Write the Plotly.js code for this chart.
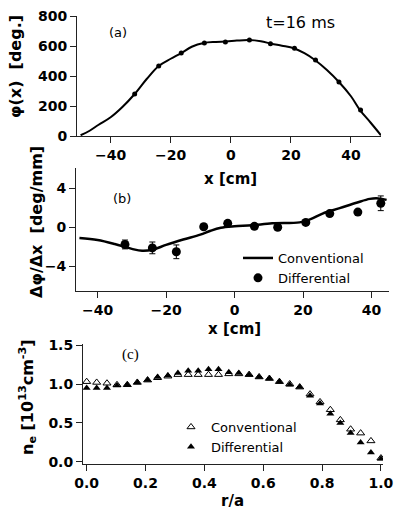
<!DOCTYPE html>
<html>
<head>
<meta charset="utf-8">
<script src="https://cdn.plot.ly/plotly-3.0.1.min.js"></script>
<style>html,body{margin:0;padding:0;background:#fff;}#chart{width:394px;height:511px;}</style>
</head>
<body>
<div id="chart"></div>
<script>
// ---------- Panel (a): phase profile ----------
const phiCurveX = [-50, -47, -44, -40, -36, -32, -28, -24, -20, -16.5, -13, -9, -5, -1.5, 2, 6, 10, 13.5, 17, 21, 24.5, 28, 32, 36, 40, 43, 46.5, 50];
const phiCurveY = [5, 35, 75, 125, 195, 280, 380, 467, 515, 553, 595, 620, 627, 630, 636, 640, 632, 615, 602, 585, 552, 507, 440, 360, 265, 173, 90, 5];
const phiPtsX = [-32, -24, -16.5, -8.8, -1.8, 6.2, 13.2, 21.2, 28.2, 36, 43.2];
const phiPtsY = [280, 467, 553, 620, 627, 640, 615, 585, 507, 360, 173];

// ---------- Panel (b): phase gradient ----------
const gradConvX = [-45.3, -40, -35, -30, -27, -24, -20, -15, -10, -7, -4, 0, 5, 11, 19, 22, 25.7, 30.7, 35.6, 39.5, 42, 44.4];
const gradConvY = [-1.1, -1.3, -1.7, -2.2, -2.4, -2.3, -1.8, -1.25, -0.75, -0.35, -0.05, 0.1, 0.2, 0.4, 0.5, 0.8, 1.4, 1.95, 2.5, 2.9, 2.95, 2.8];
const gradDiffX = [-32, -24, -17, -9, -2, 5.8, 12.6, 20.8, 27.8, 36, 42.7];
const gradDiffY = [-1.75, -2.1, -2.5, 0.05, 0.4, 0.1, 0, 0.5, 1.4, 1.55, 2.45];
const gradDiffErr = [0.45, 0.6, 0.7, 0.25, 0.25, 0.25, 0.25, 0.25, 0.25, 0.25, 0.75];

// ---------- Panel (c): density profile ----------
const rOverA = [0.000, 0.034, 0.069, 0.103, 0.138, 0.172, 0.207, 0.241, 0.276, 0.310,
                0.345, 0.379, 0.414, 0.448, 0.483, 0.517, 0.552, 0.586, 0.621, 0.655,
                0.690, 0.724, 0.759, 0.793, 0.828, 0.862, 0.897, 0.931, 0.966, 1.000];
const neConv = [1.03, 1.02, 1.01, 0.99, 0.99, 1.02, 1.05, 1.08, 1.10, 1.12,
                1.12, 1.12, 1.12, 1.12, 1.13, 1.13, 1.12, 1.09, 1.07, 1.03,
                1.00, 0.96, 0.87, 0.77, 0.67, 0.54, 0.42, 0.37, 0.27, 0.05];
const neDiff = [0.95, 0.95, 0.95, 0.98, 0.99, 1.02, 1.05, 1.09, 1.11, 1.14,
                1.17, 1.17, 1.19, 1.19, 1.15, 1.14, 1.12, 1.09, 1.07, 1.03,
                0.99, 0.96, 0.85, 0.75, 0.62, 0.50, 0.37, 0.25, 0.12, 0.04];

const seriesNames = ['Conventional', 'Differential'];

const W = 394, H = 511;
const px = v => v / W;
const py = v => 1 - v / H;

const tickFont = {family: 'DejaVu Sans', size: 14, weight: 'bold', color: '#000'};
const axisBase = {
  showline: true, linecolor: '#222', linewidth: 1, mirror: false,
  ticks: 'outside', ticklen: 6, tickwidth: 1, tickcolor: '#222',
  showgrid: false, zeroline: false, tickfont: tickFont, fixedrange: true
};

const traces = [
  {x: phiCurveX, y: phiCurveY, mode: 'lines', line: {color: '#000', width: 2, shape: 'spline'},
   xaxis: 'x', yaxis: 'y', showlegend: false, hoverinfo: 'skip'},
  {x: phiPtsX, y: phiPtsY, mode: 'markers', marker: {color: '#000', size: 5},
   xaxis: 'x', yaxis: 'y', showlegend: false, hoverinfo: 'skip'},

  {x: gradConvX, y: gradConvY, mode: 'lines', name: seriesNames[0],
   line: {color: '#000', width: 2.5, shape: 'spline'},
   xaxis: 'x2', yaxis: 'y2', legend: 'legend'},
  {x: gradDiffX, y: gradDiffY, mode: 'markers', name: seriesNames[1],
   marker: {color: '#000', size: 9},
   error_y: {type: 'data', array: gradDiffErr, visible: true, color: '#000', thickness: 1, width: 3},
   xaxis: 'x2', yaxis: 'y2', legend: 'legend'},

  {x: rOverA, y: neConv, mode: 'markers', name: seriesNames[0],
   marker: {symbol: 'triangle-up-open', color: '#000', size: 7, line: {width: 1}},
   xaxis: 'x3', yaxis: 'y3', legend: 'legend2'},
  {x: rOverA, y: neDiff, mode: 'markers', name: seriesNames[1],
   marker: {symbol: 'triangle-up', color: '#000', size: 7},
   xaxis: 'x3', yaxis: 'y3', legend: 'legend2'}
];

function ann(text, x, y, font, angle) {
  return {text: text, x: px(x), y: py(y), xref: 'paper', yref: 'paper',
          xanchor: 'center', yanchor: 'middle', showarrow: false,
          textangle: angle || 0, font: font};
}
const titleFont = {family: 'DejaVu Sans', size: 15, weight: 'bold', color: '#000'};
const yTitleFont = {family: 'DejaVu Sans', size: 16, weight: 'bold', color: '#000'};
const labelFont = {family: 'DejaVu Sans', size: 13, color: '#000'};

const layout = {
  width: W, height: H,
  margin: {l: 0, r: 0, t: 0, b: 0},
  paper_bgcolor: '#fff', plot_bgcolor: '#fff',
  xaxis: Object.assign({}, axisBase, {domain: [px(77), px(381)], range: [-51.2, 50],
          tickvals: [-40, -20, 0, 20, 40], anchor: 'y'}),
  yaxis: Object.assign({}, axisBase, {domain: [py(136), py(16)], range: [0, 800],
          tickvals: [0, 200, 400, 600, 800], anchor: 'x'}),
  xaxis2: Object.assign({}, axisBase, {domain: [px(76), px(389)], range: [-46.3, 45.1],
          tickvals: [-40, -20, 0, 20, 40], anchor: 'y2'}),
  yaxis2: Object.assign({}, axisBase, {domain: [py(291), py(168)], range: [-6.5, 6.05],
          tickvals: [-4, 0, 4], anchor: 'x2'}),
  xaxis3: Object.assign({}, axisBase, {domain: [px(83), px(383)], range: [-0.0125, 1.007],
          tickvals: [0, 0.2, 0.4, 0.6, 0.8, 1.0], tickformat: '.1f', anchor: 'y3'}),
  yaxis3: Object.assign({}, axisBase, {domain: [py(464), py(344)], range: [-0.026, 1.513],
          tickvals: [0, 0.5, 1.0, 1.5], tickformat: '.1f', anchor: 'x3'}),
  legend: {x: px(238), y: py(243), xanchor: 'left', yanchor: 'top', bgcolor: 'rgba(0,0,0,0)',
           font: {family: 'DejaVu Sans', size: 13, color: '#000'}, borderwidth: 0, tracegroupgap: 0},
  legend2: {x: px(171), y: py(412), xanchor: 'left', yanchor: 'top', bgcolor: 'rgba(0,0,0,0)',
           font: {family: 'DejaVu Sans', size: 13, color: '#000'}, borderwidth: 0, tracegroupgap: 0},
  annotations: [
    ann('(a)', 118, 33, labelFont),
    ann('t=16 ms', 300, 22, {family: 'DejaVu Sans', size: 16, color: '#000'}),
    ann('(b)', 122, 198, labelFont),
    ann('(c)', 130, 354, {family: 'Liberation Serif', size: 15, color: '#000'}),
    ann('φ(x)  [deg.]', 15, 67, yTitleFont, -90),
    ann('x [cm]', 230, 179, titleFont),
    ann('Δφ/Δx  [deg/mm]', 36, 222, yTitleFont, -90),
    ann('x [cm]', 235, 329, titleFont),
    ann('n<sub>e</sub> [10<sup>13</sup>cm<sup>-3</sup>]', 27, 397, yTitleFont, -90),
    ann('r/a', 232, 501, titleFont)
  ]
};

Plotly.newPlot('chart', traces, layout, {displayModeBar: false, staticPlot: true});
</script>
</body>
</html>
